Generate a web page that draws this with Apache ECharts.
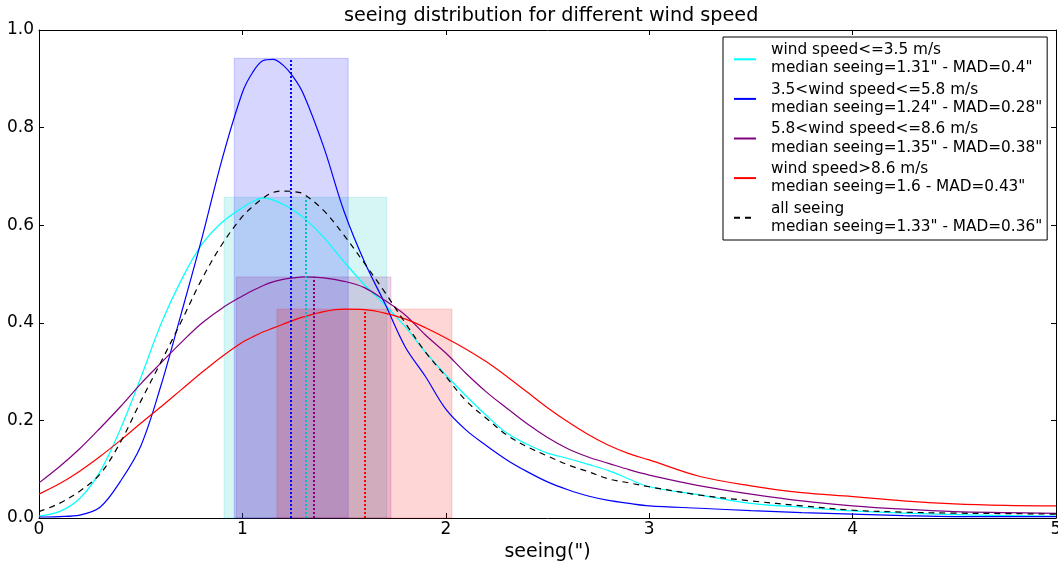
<!DOCTYPE html>
<html>
<head>
<meta charset="utf-8">
<script src="https://cdn.jsdelivr.net/npm/echarts@6/dist/echarts.min.js"></script>
<style>
  html, body { margin: 0; padding: 0; background: #fff; }
  #chart { width: 1058px; height: 563px; }
</style>
</head>
<body>
<div id="chart"></div>
<script>
// Seeing values (arcsec) at which the density curves are sampled
const seeing = [0, 0.1, 0.2, 0.3, 0.4, 0.5, 0.6, 0.7, 0.8, 0.9, 1.0, 1.05, 1.1, 1.15, 1.2, 1.25, 1.3,
  1.4, 1.5, 1.6, 1.7, 1.8, 1.9, 2.0, 2.1, 2.2, 2.3, 2.4, 2.5, 2.6, 2.7, 2.8, 2.9, 3.0,
  3.25, 3.5, 3.75, 4.0, 4.25, 4.5, 4.75, 5.0];

// Density of seeing for each wind speed bin
const windLow = [0.004, 0.013, 0.04, 0.095, 0.182, 0.287, 0.398, 0.488, 0.56, 0.606, 0.636,
  0.648, 0.656, 0.652, 0.643, 0.631, 0.616,
  0.575, 0.525, 0.478, 0.437, 0.392, 0.34, 0.293, 0.25, 0.21, 0.174, 0.151, 0.133, 0.122, 0.11, 0.097, 0.08, 0.064,
  0.047, 0.03, 0.022, 0.0145, 0.01, 0.007, 0.005, 0.004];
const windMid = [0.002, 0.003, 0.006, 0.022, 0.075, 0.147, 0.272, 0.42, 0.572, 0.735, 0.872,
  0.913, 0.937, 0.94, 0.928, 0.904, 0.869,
  0.76, 0.628, 0.525, 0.44, 0.351, 0.29, 0.223, 0.18, 0.148, 0.119, 0.095, 0.074, 0.058, 0.045, 0.036, 0.03, 0.025,
  0.02, 0.015, 0.011, 0.008, 0.005, 0.003, 0.003, 0.003];
const windHigh = [0.072, 0.105, 0.142, 0.184, 0.228, 0.275, 0.318, 0.36, 0.399, 0.43, 0.455,
  0.466, 0.476, 0.484, 0.489, 0.492, 0.494,
  0.492, 0.485, 0.472, 0.446, 0.416, 0.375, 0.338, 0.296, 0.258, 0.225, 0.193, 0.165, 0.142, 0.125, 0.112, 0.099, 0.088,
  0.066, 0.049, 0.035, 0.025, 0.018, 0.013, 0.011, 0.0096];
const windStrong = [0.049, 0.07, 0.096, 0.126, 0.159, 0.194, 0.228, 0.263, 0.298, 0.331, 0.36,
  0.371, 0.381, 0.389, 0.397, 0.405, 0.412,
  0.423, 0.428, 0.427, 0.42, 0.408, 0.39, 0.369, 0.346, 0.32, 0.29, 0.258, 0.226, 0.197, 0.171, 0.149, 0.132, 0.119,
  0.085, 0.066, 0.052, 0.044, 0.035, 0.029, 0.026, 0.025];
const allSeeing = [0.013, 0.03, 0.055, 0.09, 0.155, 0.239, 0.32, 0.403, 0.489, 0.561, 0.618,
  0.638, 0.655, 0.667, 0.67, 0.669, 0.664,
  0.63, 0.579, 0.522, 0.463, 0.4, 0.34, 0.29, 0.24, 0.204, 0.17, 0.146, 0.127, 0.109, 0.095, 0.08, 0.072, 0.064,
  0.047, 0.035, 0.025, 0.016, 0.012, 0.01, 0.009, 0.008];

// Median seeing, MAD and peak density per wind bin (low, mid, high, strong)
const medians = [1.31, 1.24, 1.35, 1.6];
const mads = [0.4, 0.28, 0.38, 0.43];
const peaks = [0.657, 0.942, 0.494, 0.428];

const seriesNames = [
  'wind speed<=3.5 m/s\nmedian seeing=1.31" - MAD=0.4"',
  '3.5<wind speed<=5.8 m/s\nmedian seeing=1.24" - MAD=0.28"',
  '5.8<wind speed<=8.6 m/s\nmedian seeing=1.35" - MAD=0.38"',
  'wind speed>8.6 m/s\nmedian seeing=1.6 - MAD=0.43"',
  'all seeing\nmedian seeing=1.33" - MAD=0.36"'
];

const xTicks = [0, 1, 2, 3, 4, 5];
const yTicks = [0, 0.2, 0.4, 0.6, 0.8, 1.0];

const FONT = 'DejaVu Sans';
const lineColors = ['#00ffff', '#0000ff', '#800080', '#ff0000'];
const medianColors = ['#00bfbf', '#0000ff', '#800080', '#ff0000'];
const spanFill = ['rgba(0,191,191,0.16)', 'rgba(0,0,255,0.16)', 'rgba(128,0,128,0.16)', 'rgba(255,0,0,0.16)'];
const spanEdge = ['rgba(0,191,191,0.18)', 'rgba(0,0,255,0.18)', 'rgba(128,0,128,0.18)', 'rgba(255,0,0,0.18)'];

const binValues = [windLow, windMid, windHigh, windStrong];

function pairs(values) {
  return seeing.map((x, i) => [x, values[i]]);
}

const series = binValues.map((vals, k) => ({
  name: seriesNames[k],
  type: 'line',
  data: pairs(vals),
  smooth: 0.35,
  symbol: 'none',
  lineStyle: { color: lineColors[k], width: 1.2 },
  itemStyle: { color: lineColors[k] },
  z: 3,
  markArea: {
    silent: true,
    itemStyle: { color: spanFill[k], borderColor: spanEdge[k], borderWidth: 1 },
    data: [[
      { xAxis: medians[k] - mads[k], yAxis: 0 },
      { xAxis: medians[k] + mads[k], yAxis: peaks[k] }
    ]]
  },
  markLine: {
    silent: true,
    symbol: ['none', 'none'],
    label: { show: false },
    lineStyle: { color: medianColors[k], width: 2, type: [2, 2] },
    data: [[
      { coord: [medians[k], 0] },
      { coord: [medians[k], peaks[k]] }
    ]]
  }
}));

series.push({
  name: seriesNames[4],
  type: 'line',
  data: pairs(allSeeing),
  smooth: 0.35,
  symbol: 'none',
  lineStyle: { color: '#000000', width: 1.2, type: [6, 5] },
  itemStyle: { color: '#000000' },
  z: 3
});

const axisCommon = {
  type: 'value',
  axisLine: { show: true, onZero: false, lineStyle: { color: '#000', width: 1 } },
  axisTick: { show: true, inside: true, length: 5, lineStyle: { color: '#000', width: 1 } },
  splitLine: { show: false }
};

const chart = echarts.init(document.getElementById('chart'), null, { renderer: 'canvas' });
chart.setOption({
  animation: false,
  backgroundColor: '#ffffff',
  title: {
    text: 'seeing distribution for different wind speed',
    left: 339,
    top: 2,
    textStyle: { fontFamily: FONT, fontSize: 19.2, fontWeight: 'normal', color: '#000' }
  },
  grid: { left: 39, right: 2, top: 30, bottom: 45, outerBoundsMode: 'none', containLabel: false },
  legend: {
    orient: 'vertical',
    left: 723,
    top: 37,
    padding: [4, 5, 4, 10],
    itemGap: 3,
    itemWidth: 22,
    itemHeight: 2,
    borderColor: '#000',
    borderWidth: 1,
    backgroundColor: '#fff',
    selectedMode: false,
    itemStyle: { opacity: 0 },
    data: seriesNames,
    textStyle: { fontFamily: FONT, fontSize: 15.3, lineHeight: 18.3, color: '#000', padding: [0, 0, 0, 10] }
  },
  xAxis: [
    Object.assign({}, axisCommon, {
      position: 'bottom', min: xTicks[0], max: xTicks[xTicks.length - 1], interval: 1,
      name: 'seeing(")', nameLocation: 'middle', nameGap: 20,
      nameTextStyle: { fontFamily: FONT, fontSize: 19, color: '#000' },
      axisLabel: { fontFamily: FONT, fontSize: 17, color: '#000', margin: 3, formatter: v => String(v) }
    }),
    Object.assign({}, axisCommon, {
      position: 'top', min: xTicks[0], max: xTicks[xTicks.length - 1], interval: 1,
      axisLabel: { show: false }
    })
  ],
  yAxis: [
    Object.assign({}, axisCommon, {
      position: 'left', min: yTicks[0], max: yTicks[yTicks.length - 1], interval: 0.2,
      axisLabel: { fontFamily: FONT, fontSize: 17, color: '#000', margin: 5, formatter: v => v.toFixed(1) }
    }),
    Object.assign({}, axisCommon, {
      position: 'right', min: yTicks[0], max: yTicks[yTicks.length - 1], interval: 0.2,
      axisLabel: { show: false }
    })
  ],
  series: series
});
</script>
</body>
</html>
